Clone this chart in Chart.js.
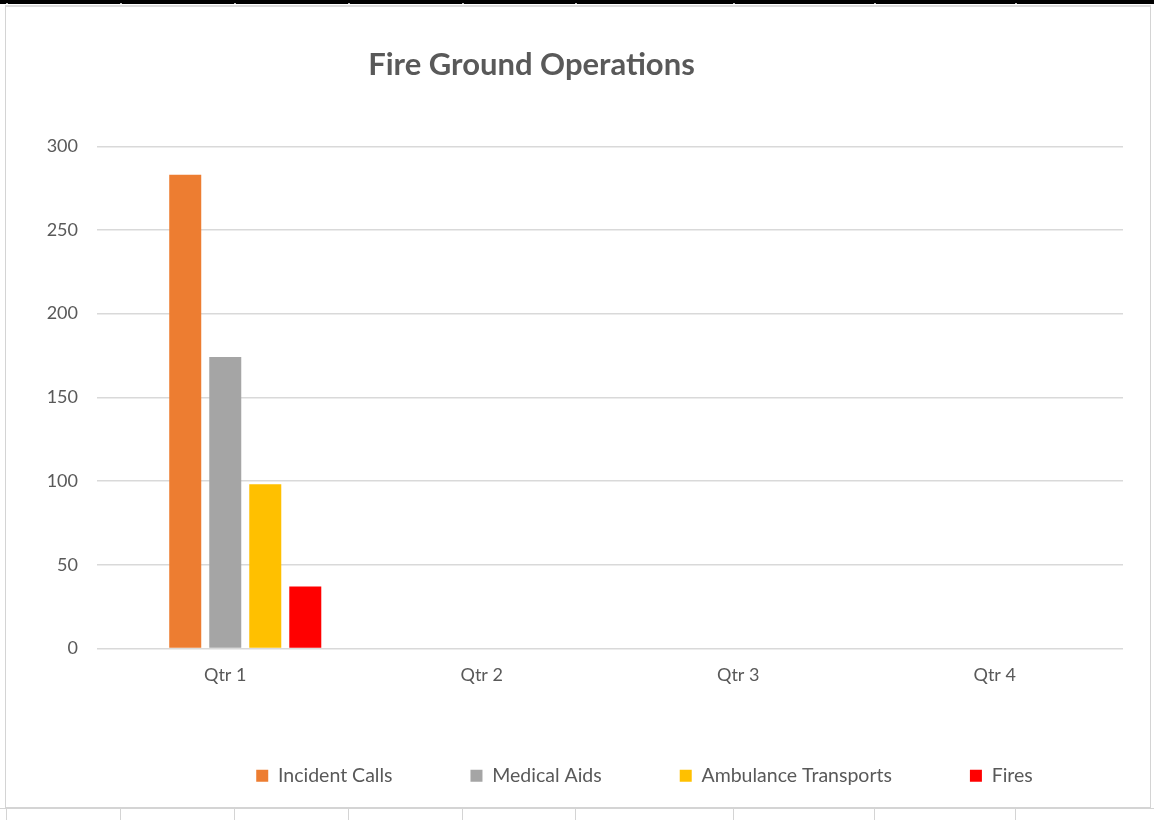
<!DOCTYPE html>
<html>
<head>
<meta charset="utf-8">
<title>Fire Ground Operations</title>
<script src="https://cdn.jsdelivr.net/npm/chart.js@4.4.1/dist/chart.umd.min.js"></script>
<style>
    html, body { margin: 0; padding: 0; background: #fff; }
    #sheet { position: relative; width: 1154px; height: 820px; overflow: hidden; background: #fff; }
    #topbar { position: absolute; left: 0; top: 0; width: 1154px; height: 4px; background: #000; }
    .tick { position: absolute; top: 3px; width: 2px; height: 1px; background: #bbb; }
    #frame { position: absolute; left: 5px; top: 5px; width: 1144px; height: 800px; border: 1px solid #d4d4d4; border-top: 2px solid #dcdcdc; }
    #cells { position: absolute; left: 0; top: 808px; width: 1154px; height: 12px; border-top: 1px solid #d4d4d4; }
    .cell { position: absolute; top: 0; width: 1px; height: 12px; background: #d4d4d4; }
    #chartWrap { position: absolute; left: 0; top: 0; width: 1154px; height: 820px; }
</style>
</head>
<body>
<div id="sheet">
    <div id="topbar"></div>
    <div id="frame"></div>
    <div id="cells"></div>
    <div id="chartWrap"><canvas id="fgChart" width="1154" height="820"></canvas></div>
</div>
<script>
// Quarterly counts
const quarters = ['Qtr 1', 'Qtr 2', 'Qtr 3', 'Qtr 4'];
const incidentCalls = [283, null, null, null];
const medicalAids = [174, null, null, null];
const ambulanceTransports = [98, null, null, null];
const fires = [37, null, null, null];
const yTicks = [0, 50, 100, 150, 200, 250, 300];

// spreadsheet column lines around the chart object
const columnEdges = [6, 120, 234, 348, 462, 575, 733, 874, 1015];
columnEdges.forEach(x => {
    const t = document.createElement('div');
    t.className = 'tick';
    t.style.left = x + 'px';
    document.getElementById('topbar').appendChild(t);
    const c = document.createElement('div');
    c.className = 'cell';
    c.style.left = x + 'px';
    document.getElementById('cells').appendChild(c);
});

const textColor = '#595959';
const gridColor = '#d9d9d9';
const fontFamily = 'Lato, "Open Sans", sans-serif';

// title and legend sit off-centre in the chart object
const titleShift = -40;
const legendShift = 73;
const legendLift = -14;
const legendHeight = 118;

const offsetBlocks = {
    id: 'offsetBlocks',
    beforeInit(chart) {
        // keep the wide item spacing without the legend eating the plot
        const legend = chart.legend;
        if (legend) {
            const fit = legend.fit.bind(legend);
            legend.fit = function() {
                fit();
                this.height = legendHeight;
            };
        }
    },
    afterUpdate(chart) {
        if (chart.titleBlock) {
            chart.titleBlock.left += titleShift;
            chart.titleBlock.right += titleShift;
        }
        if (chart.legend) {
            chart.legend.left += legendShift;
            chart.legend.right += legendShift;
            chart.legend.top += legendLift;
            chart.legend.bottom += legendLift;
        }
    }
};

const ctx = document.getElementById('fgChart').getContext('2d');
new Chart(ctx, {
    type: 'bar',
    data: {
        labels: quarters,
        datasets: [
            { label: '', data: [null, null, null, null], backgroundColor: 'transparent' },
            { label: 'Incident Calls', data: incidentCalls, backgroundColor: '#ED7D31' },
            { label: 'Medical Aids', data: medicalAids, backgroundColor: '#A5A5A5' },
            { label: 'Ambulance Transports', data: ambulanceTransports, backgroundColor: '#FFC000' },
            { label: 'Fires', data: fires, backgroundColor: '#FF0000' }
        ]
    },
    options: {
        responsive: false,
        animation: false,
        devicePixelRatio: 1,
        datasets: {
            bar: {
                barPercentage: 0.8,
                categoryPercentage: 0.78
            }
        },
        layout: {
            padding: { left: 20, right: 31, top: 0, bottom: 0 }
        },
        scales: {
            x: {
                grid: { display: false, drawTicks: false },
                border: { display: false },
                ticks: {
                    color: textColor,
                    font: { family: fontFamily, size: 18 },
                    padding: 16
                }
            },
            y: {
                min: 0,
                max: 300,
                afterFit: function(scale) {
                    scale.width = 77;
                },
                afterBuildTicks: function(scale) {
                    scale.ticks = yTicks.map(v => ({ value: v }));
                },
                grid: {
                    color: gridColor,
                    lineWidth: 1.4,
                    drawTicks: false
                },
                border: { display: false },
                ticks: {
                    color: textColor,
                    font: { family: fontFamily, size: 18 },
                    padding: 19
                }
            }
        },
        plugins: {
            title: {
                display: true,
                text: 'Fire Ground Operations',
                color: textColor,
                font: { family: fontFamily, size: 31, weight: 'bold' },
                padding: { top: 46, bottom: 63 }
            },
            legend: {
                position: 'bottom',
                labels: {
                    color: textColor,
                    font: { family: fontFamily, size: 19.5 },
                    boxWidth: 12,
                    boxHeight: 12,
                    padding: 78,
                    filter: item => item.text !== ''
                }
            },
            tooltip: { enabled: false }
        }
    },
    plugins: [offsetBlocks]
});
</script>
</body>
</html>
